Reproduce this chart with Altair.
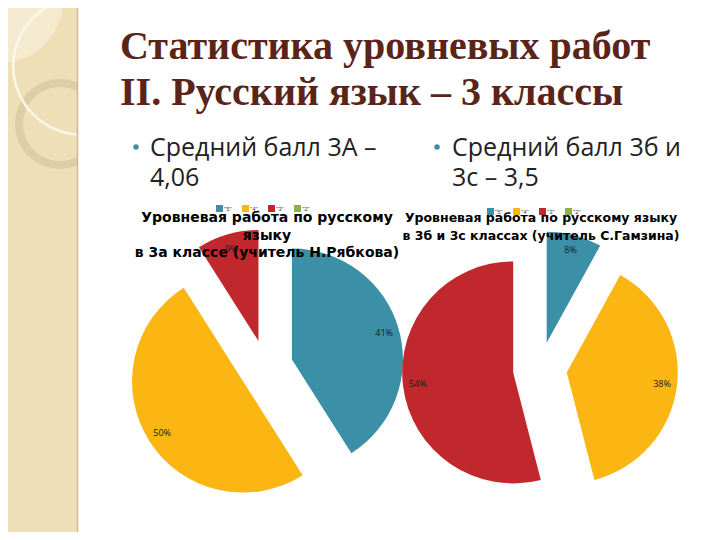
import math
import altair as alt
import pandas as pd

# ---------------- data ----------------
grades = ['"5"', '"4"', '"3"', '"2"']
grade_colors = ["#3b8fa6", "#fbb614", "#c1282e", "#8db04b"]

left_values = [41, 50, 9, 0]
left_labels = ["41%", "50%", "9%", ""]

right_values = [8, 38, 54, 0]
right_labels = ["8%", "38%", "54%", ""]

title_lines = ["Статистика уровневых работ", "II. Русский язык – 3 классы"]
bullet_left = ["Средний балл 3А –", "4,06"]
bullet_right = ["Средний балл 3б и", "3с – 3,5"]
chart_title_left = ["Уровневая работа по русскому", "языку", "в 3а классе (учитель Н.Рябкова)"]
chart_title_right = ["Уровневая работа по русскому языку", "в 3б и 3с классах (учитель С.Гамзина)"]

# ---------------- layout ----------------
W, H = 704, 524
R = 111      # pie radius
D = 27       # explosion distance
LR = 96      # label radius
TAU = 2 * math.pi

one = alt.Data(values=[{}])


def pie_layers(values, labels, cx, cy, lx, ly):
    df = pd.DataFrame({"grade": grades, "value": values, "label": labels,
                       "order": list(range(len(grades)))})
    base = (
        alt.Chart(df)
        .transform_window(cum="sum(value)", sort=[alt.SortField("order")], frame=[None, 0])
        .transform_joinaggregate(total="sum(value)")
        .transform_calculate(f1="datum.cum / datum.total",
                             f0="(datum.cum - datum.value) / datum.total")
        .transform_calculate(fm="(datum.f0 + datum.f1) / 2")
        .transform_calculate(ex=f"{cx} + {D} * sin(2 * PI * datum.fm)",
                             ey=f"{cy} - {D} * cos(2 * PI * datum.fm)")
    )
    tscale = alt.Scale(domain=[0, 1], range=[0, TAU])
    x = alt.X("ex:Q", scale=None, axis=None, stack=False)
    y = alt.Y("ey:Q", scale=None, axis=None, stack=False)
    arcs = base.mark_arc(radius=R, strokeWidth=0).encode(
        x=x, y=y,
        theta=alt.Theta("f0:Q", scale=tscale),
        theta2="f1:Q",
        color=alt.Color(
            "grade:N",
            scale=alt.Scale(domain=grades, range=grade_colors),
            legend=alt.Legend(
                title=None, orient="none", legendX=lx, legendY=ly,
                direction="horizontal", symbolType="square", symbolSize=49,
                symbolStrokeWidth=0, labelFontSize=6, labelFont="Liberation Sans",
                labelColor="#444", labelOffset=1, columnPadding=10, padding=0,
            ),
        ),
        order=alt.Order("order:Q"),
    )
    text = base.transform_filter("datum.value > 0").mark_text(
        radius=LR, font="Open Sans", fontSize=9, color="#1a1a1a"
    ).encode(x=x, y=y, theta=alt.Theta("fm:Q", scale=tscale), text="label:N")
    return arcs, text


def txt(lines, x, y, **kw):
    return alt.Chart(one).mark_text(text=lines, **kw).encode(x=alt.value(x), y=alt.value(y))


# ---------------- decoration (left strip) ----------------
strip = alt.Chart(one).mark_rect(color="#efdfb6").encode(
    x=alt.value(0), x2=alt.value(70), y=alt.value(0), y2=alt.value(H))
strip_light = alt.Chart(one).mark_arc(radius=63, theta=1.5708, theta2=3.1416, color="#f4ead0").encode(
    x=alt.value(-8), y=alt.value(-8))
ring = alt.Chart(one).mark_arc(radius=45, radius2=37, theta=0, theta2=TAU, color="#d8c9a2", opacity=0.8).encode(
    x=alt.value(52), y=alt.value(116))
white_arc = alt.Chart(one).mark_arc(radius=70, radius2=67.5, theta=0, theta2=TAU, color="#fbf6ea").encode(
    x=alt.value(74), y=alt.value(58))
cover = alt.Chart(one).mark_rect(color="white").encode(
    x=alt.value(70), x2=alt.value(W), y=alt.value(0), y2=alt.value(H))
strip_edge = alt.Chart(one).mark_rule(color="#c9b995", strokeWidth=1.5).encode(
    x=alt.value(69.5), y=alt.value(0), y2=alt.value(H))

# ---------------- pies ----------------
left_arcs, left_text = pie_layers(left_values, left_labels, 258, 359, 208, 197)
right_arcs, right_text = pie_layers(right_values, right_labels, 532, 361, 479, 200)

# ---------------- texts ----------------
title = txt(title_lines, 112, 51, font="Liberation Serif", fontSize=40, fontWeight="bold",
            color="#5a2418", align="left", baseline="alphabetic", lineHeight=46)
b_left = txt(bullet_left, 142, 148, font="Open Sans", fontSize=25, color="#222222",
             align="left", baseline="alphabetic", lineHeight=30)
b_right = txt(bullet_right, 444, 148, font="Open Sans", fontSize=25, color="#222222",
              align="left", baseline="alphabetic", lineHeight=30)
dots = alt.Chart(pd.DataFrame({"bx": [128, 429]})).mark_circle(size=30, color="#3b8fa6", opacity=1).encode(
    x=alt.X("bx:Q", scale=None, axis=None), y=alt.value(139))
ct_left = txt(chart_title_left, 259, 214, font="DejaVu Sans", fontSize=14, fontWeight="bold",
              color="#000000", align="center", baseline="alphabetic", lineHeight=17.5)
ct_right = txt(chart_title_right, 533, 214, font="DejaVu Sans", fontSize=12.5, fontWeight="bold",
               color="#000000", align="center", baseline="alphabetic", lineHeight=18)

chart = alt.layer(
    strip, strip_light, ring, white_arc, cover, strip_edge,
    left_arcs, right_arcs,
    title, b_left, b_right, dots, ct_left, ct_right,
    left_text, right_text,
).resolve_scale(color="independent").properties(
    width=W, height=H, autosize=alt.AutoSizeParams(type="none"), padding=0,
).configure_view(stroke=None)

chart.save("out.html", embed_options={"renderer": "svg", "actions": False})
